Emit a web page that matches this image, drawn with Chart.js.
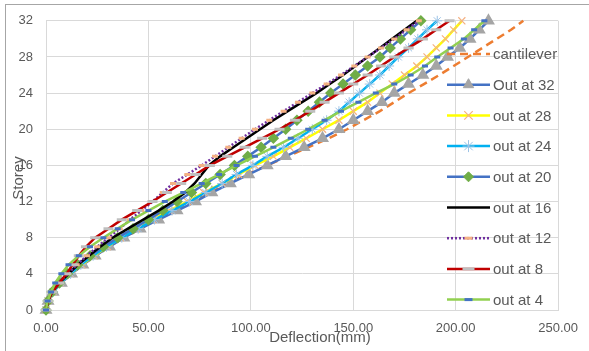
<!DOCTYPE html>
<html>
<head>
<meta charset="utf-8">
<script src="https://cdn.jsdelivr.net/npm/chart.js@4.4.1/dist/chart.umd.min.js"></script>
<style>
  html, body { margin: 0; padding: 0; background: #fff; }
</style>
</head>
<body>
<canvas id="myChart" width="589" height="351"></canvas>
<script>
// storey levels (y) and deflection in mm (x) for each case
var storeys = [0, 1, 2, 3, 4, 5, 6, 7, 8, 9, 10, 11, 12, 13, 14, 15, 16,
  17, 18, 19, 20, 21, 22, 23, 24, 25, 26, 27, 28, 29, 30, 31, 32];

var cantilever = [0, 1, 3.5, 7.5, 12.5, 18, 24, 30.5, 38, 46, 54, 62, 71, 80, 89, 98, 108,
  118, 128, 138, 147, 155, 163, 170, 177, 184.5, 192, 199, 206, 213, 220, 227, 233];
var outAt32 = [0, 1, 3.5, 7.5, 12.5, 18, 24, 31, 38, 46, 55, 64, 73, 81, 90, 99, 108,
  117, 126, 135, 143, 150, 157, 164, 170, 177, 184, 190.5, 196, 202, 207, 211.5, 216];
var outAt28 = [0, 1, 3.5, 7, 12, 17.5, 23.5, 30, 36.5, 44, 52, 60, 69, 77, 86, 94, 102,
  111, 119, 127, 135, 143, 150, 157, 163, 169, 175, 181, 186, 190.5, 195, 199, 203];
var outAt24 = [0, 1, 3.5, 7, 12, 17, 23, 29.5, 37, 45, 53, 61.5, 70, 78, 86, 93, 101,
  108, 116, 123, 130, 137, 143, 148, 153, 158, 163, 167.5, 172, 177, 181.5, 186, 191];
var outAt20 = [0, 1, 3, 6.5, 10.5, 15.5, 21.5, 28, 35, 42.5, 50, 57, 64, 71, 78, 85, 92,
  98.5, 105, 111, 117, 122.5, 128, 133.5, 139, 145, 151, 157, 163, 168, 173, 178, 183];
var outAt16 = [0, 1, 3, 6.5, 11, 15.5, 21, 26.5, 32.5, 40, 47.5, 55, 62, 68, 72.5, 76, 79.5,
  85, 91.5, 98, 104.5, 111, 118, 125, 132, 138.5, 145, 151, 157, 163, 169, 175, 181];
var outAt12 = [0, 1, 3, 6.5, 10.5, 15, 20, 25, 30.5, 36, 41, 46.5, 52, 57, 62, 69, 76,
  82.5, 89, 95.5, 102, 109, 116, 123, 130, 137, 144, 150.5, 157, 163.5, 170, 176, 182];
var outAt8 = [0, 1, 3, 6.5, 10, 13, 16, 19.5, 24, 30.5, 37, 44.5, 52, 59, 66, 73, 80,
  88.5, 97, 105.5, 114, 121.5, 129, 136, 143, 150, 157, 163.5, 170, 177, 184, 190.5, 197];
var outAt4 = [0, 0.8, 2.5, 4.5, 7.5, 11, 16, 21.5, 28, 35, 42, 50, 58, 67, 76, 84.5, 93,
  102, 111, 119.5, 128, 136, 144, 152.5, 161, 170, 178, 185, 191, 197.5, 204, 209, 214];

var xTicks = [0, 50, 100, 150, 200, 250];
var yTicks = [0, 4, 8, 12, 16, 20, 24, 28, 32];

function toPoints(values) {
  return values.map(function(v, i) {
    return { x: v, y: storeys[i] };
  });
}

var fontFamily = '"Liberation Sans", Arial, sans-serif';
var textGrey = '#595959';

var datasets = [
  { label: 'cantilever', data: toPoints(cantilever), borderColor: '#ED7D31',
    borderDash: [8, 5], pointRadius: 0 },
  { label: 'Out at 32', data: toPoints(outAt32), borderColor: '#4472C4',
    pointStyle: 'triangle', pointRadius: 5, pointBackgroundColor: '#A5A5A5', pointBorderColor: '#A5A5A5' },
  { label: 'out at 28', data: toPoints(outAt28), borderColor: '#FFFF00',
    pointStyle: 'crossRot', pointRadius: 5, pointBorderColor: '#F4B183', pointBorderWidth: 1.2 },
  { label: 'out at 24', data: toPoints(outAt24), borderColor: '#00B0F0',
    pointStyle: 'star', pointRadius: 5, pointBorderColor: '#9DC3E6', pointBorderWidth: 1 },
  { label: 'out at 20', data: toPoints(outAt20), borderColor: '#4472C4',
    pointStyle: 'rectRot', pointRadius: 4, pointBackgroundColor: '#70AD47', pointBorderColor: '#70AD47' },
  { label: 'out at 16', data: toPoints(outAt16), borderColor: '#000000', pointRadius: 0 },
  { label: 'out at 12', data: toPoints(outAt12), borderColor: '#7030A0',
    borderDash: [2, 2], pointStyle: 'line', pointRadius: 3, pointBorderColor: '#F4B183', pointBorderWidth: 3 },
  { label: 'out at 8', data: toPoints(outAt8), borderColor: '#C00000',
    pointStyle: 'line', pointRadius: 5, pointBorderColor: '#BFBFBF', pointBorderWidth: 3 },
  { label: 'out at 4', data: toPoints(outAt4), borderColor: '#92D050',
    pointStyle: 'line', pointRadius: 3, pointBorderColor: '#4472C4', pointBorderWidth: 3 }
];

// common line settings; later series sit on top like in the spreadsheet
datasets.forEach(function(ds, i) {
  ds.showLine = true;
  ds.borderWidth = 2.5;
  ds.tension = 0;
  ds.fill = false;
  ds.clip = 8;
  ds.order = datasets.length - 1 - i;
  if (!ds.pointBackgroundColor) ds.pointBackgroundColor = ds.pointBorderColor || ds.borderColor;
});

// legend drawn over the right side of the plot
var sideLegend = {
  id: 'sideLegend',
  afterDatasetsDraw: function(chart) {
    var ctx = chart.ctx;
    var x0 = 447, x1 = 490, top = 54, gap = 30.7;
    chart.data.datasets.forEach(function(ds, i) {
      var y = top + i * gap;
      ctx.save();
      ctx.strokeStyle = ds.borderColor;
      ctx.lineWidth = ds.borderWidth;
      ctx.setLineDash(ds.borderDash || []);
      ctx.beginPath();
      ctx.moveTo(x0, y);
      ctx.lineTo(x1, y);
      ctx.stroke();
      ctx.setLineDash([]);
      if (ds.pointRadius > 0 && Chart.helpers && Chart.helpers.drawPoint) {
        ctx.fillStyle = ds.pointBackgroundColor;
        ctx.strokeStyle = ds.pointBorderColor;
        ctx.lineWidth = ds.pointBorderWidth || 1;
        Chart.helpers.drawPoint(ctx, {
          pointStyle: ds.pointStyle, radius: ds.pointRadius + 1,
          borderWidth: ds.pointBorderWidth || 1, rotation: 0
        }, (x0 + x1) / 2, y);
      }
      ctx.fillStyle = textGrey;
      ctx.font = '15px ' + fontFamily;
      ctx.textBaseline = 'middle';
      ctx.textAlign = 'left';
      ctx.fillText(ds.label, x1 + 3, y + 1);
      ctx.restore();
    });
  }
};

// axis titles and the outer frame
var frameAndTitles = {
  id: 'frameAndTitles',
  afterDraw: function(chart) {
    var ctx = chart.ctx;
    ctx.save();
    ctx.strokeStyle = '#A6A6A6';
    ctx.lineWidth = 1;
    ctx.strokeRect(5.5, 4.5, 600, 400);
    ctx.fillStyle = textGrey;
    ctx.font = '15px ' + fontFamily;
    ctx.textAlign = 'center';
    ctx.textBaseline = 'middle';
    ctx.fillText('Deflection(mm)', 320, 338);
    ctx.translate(19, 178);
    ctx.rotate(-Math.PI / 2);
    ctx.fillText('Storey', 0, 0);
    ctx.restore();
  }
};

var ctx = document.getElementById('myChart').getContext('2d');
var myChart = new Chart(ctx, {
  type: 'scatter',
  data: { datasets: datasets },
  options: {
    responsive: false,
    animation: false,
    devicePixelRatio: 1,
    layout: { padding: { top: 13, right: 26, left: 0, bottom: 0 } },
    plugins: {
      legend: { display: false },
      tooltip: { enabled: false }
    },
    scales: {
      x: {
        type: 'linear',
        min: 0,
        max: 250,
        afterBuildTicks: function(scale) {
          scale.ticks = xTicks.map(function(v) { return { value: v }; });
        },
        afterFit: function(scale) { scale.height = 41; },
        ticks: {
          color: textGrey,
          font: { family: fontFamily, size: 13 },
          padding: 11,
          maxRotation: 0,
          callback: function(v) { return Number(v).toFixed(2); }
        },
        grid: { color: '#D9D9D9', drawTicks: false },
        border: { color: '#D9D9D9' }
      },
      y: {
        type: 'linear',
        min: 0,
        max: 32,
        afterBuildTicks: function(scale) {
          scale.ticks = yTicks.map(function(v) { return { value: v }; });
        },
        afterFit: function(scale) { scale.width = 46; },
        ticks: {
          color: textGrey,
          font: { family: fontFamily, size: 13 },
          padding: 13
        },
        grid: { color: '#D9D9D9', drawTicks: false },
        border: { color: '#D9D9D9' }
      }
    }
  },
  plugins: [sideLegend, frameAndTitles]
});
</script>
</body>
</html>
